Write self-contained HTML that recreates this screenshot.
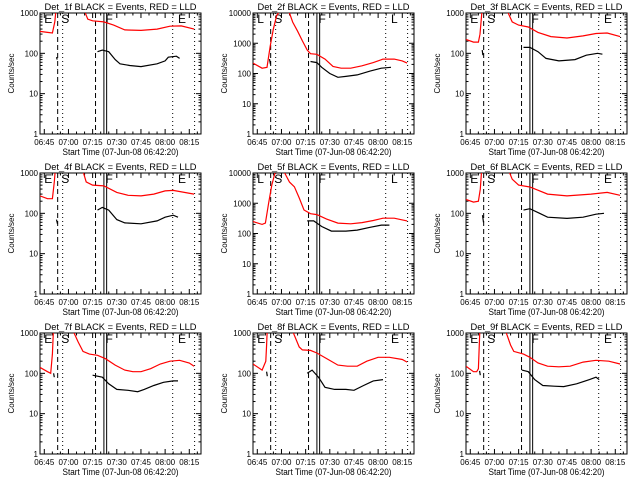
<!DOCTYPE html>
<html><head><meta charset="utf-8"><style>
body{margin:0;background:#fff}
svg{display:block}
text{font-family:"Liberation Sans",sans-serif;fill:#000}
</style></head><body>
<svg id="c" width="640" height="480" viewBox="0 0 640 480"></svg>
<script>
const detNames=["Det_1f","Det_2f","Det_3f","Det_4f","Det_5f","Det_6f","Det_7f","Det_8f","Det_9f"];
const yMaxDecades=[3,4,3,3,4,3,3,3,3];
const xTickLabels=["06:45","07:00","07:15","07:30","07:45","08:00","08:15"];
const redPreT=[[-2.7,2,5,6.5,7.5],[-2.7,3,6,8,10,12,14],[-2.7,2,5,6,7.5],[-2.7,2,5,6.2,7],[-2.7,3,5,7,9,11,14],[-2.7,2,5,6.2,7.2],[-2.7,2,4,5,5.8],[-2.7,3,5.3,5.8,6.3],[-2.7,2,4,5,6]];
const redPreV=[[350,330,320,600,1500],[220,150,160,800,3000,8000,12000],[220,190,190,300,1500],[270,230,230,600,1500],[250,200,220,1000,4000,10000,12000],[220,190,200,400,1500],[140,110,100,300,1500],[170,120,200,500,1500],[150,110,110,130,1500]];
const redPostT=[[25,27,30,37,43,50,60,70,78,85,93],[17,20,22,25,28,31,33,37,42,47,52,58,65,72,78,85,90,93],[23,26,30,36,42,50,60,70,78,85,93],[24,26,30,37,45,52,60,68,75,80,93],[14,17,20,23,26,29,33,37,43,50,58,65,72,78,85,93],[24,26,30,37,48,60,75,85,93],[18,21,24,28,33,38,44,50,55,60,66,72,78,84,90,93],[22,26,28,33,37,44,50,56,62,68,75,82,90,93],[22,25,27,33,37,42,48,55,62,70,78,86,93]];
const redPostV=[[1100,700,640,600,500,380,370,400,470,480,400],[12000,10000,5000,2500,1200,600,450,430,300,170,150,150,180,230,300,300,260,220],[1100,600,500,450,330,260,240,270,310,320,260],[1100,600,500,480,330,280,270,300,360,370,300],[12000,10000,5000,3500,1500,600,450,420,300,220,210,230,270,320,320,260],[1100,700,500,450,300,270,300,330,280],[1100,600,350,300,280,230,160,120,110,110,130,170,200,210,180,150],[1100,450,380,370,320,220,160,150,150,200,250,250,220,190],[1100,500,350,300,250,180,150,145,150,190,210,200,170]];
const blackPreT=[[7.6,8],[7.6,8.2],[7.4,7.8],[7.6,8.2],[8,8.4],[7.6,8.2],[5.8,6.2],[5.8,6.2],[5.8,6.2]];
const blackPreV=[[80,70],[300,200],[120,90],[70,55],[200,160],[90,60],[100,80],[110,85],[115,90]];
const blackPostT=[[33,36,40,44,47,53,60,70,75,77,82,84],[33,37,40,45,50,55,62,70,77,83],[33,37,42,47,55,65,72,79,82],[33,36,40,45,50,60,70,75,80,83],[31,35,40,46,55,62,70,77,82],[33,37,43,48,60,70,78,83],[30,36,40,45,52,58,62,68,74,80,83],[31,34,38,42,48,55,60,66,72,78],[32,36,40,45,52,58,66,74,78,80]];
const blackPostV=[[110,120,110,70,55,50,47,55,65,80,85,75],[250,230,160,100,75,80,90,120,150,160],[140,140,110,75,65,70,90,100,95],[120,140,120,70,58,55,65,80,90,80],[260,260,170,120,120,130,160,190,190],[120,130,100,80,75,80,95,100],[90,80,55,40,38,35,40,50,60,65,65],[100,120,80,45,40,40,38,50,65,70],[120,110,70,50,48,47,55,70,80,70]];
const ns="http://www.w3.org/2000/svg";
const svg=document.getElementById('c');
function mk(tag,attrs,parent){const e=document.createElementNS(ns,tag);for(const k in attrs)e.setAttribute(k,attrs[k]);(parent||svg).appendChild(e);return e;}
for(let p=0;p<9;p++){
  const col=p%3,row=Math.floor(p/3);
  const L=40+col*213,R=201+col*213,T=13+row*160,B=134+row*160;
  const dec=yMaxDecades[p];
  const xs=t=>L+4.3+t*1.611;
  const ys=v=>B-(Math.log10(v))/dec*(B-T);
  const g=mk('g',{});
  
  
  const cid='clip'+p;
  const cp=mk('clipPath',{id:cid},g);mk('rect',{x:L,y:T,width:R-L,height:B-T},cp);
  const tt=mk('text',{x:(L+R)/2-76,y:T-3,'font-size':9.5,textLength:152,lengthAdjust:'spacingAndGlyphs'},g);
  tt.textContent=detNames[p]+" BLACK = Events, RED = LLD";
  
  
  const yt=mk('text',{x:0,y:0,'font-size':8,'text-anchor':'middle',transform:`translate(${L-26},${(T+B)/2}) rotate(-90)`},g);
  yt.textContent="Counts/sec";
  
  
  const xt=mk('text',{x:(L+R)/2-58,y:B+21,'font-size':9,textLength:116,lengthAdjust:'spacingAndGlyphs'},g);
  xt.textContent="Start Time (07-Jun-08 06:42:20)";
  
  
  for(let d=0;d<=dec;d++){
    const y=ys(Math.pow(10,d));
    mk('line',{x1:L,x2:L+5,y1:y,y2:y,stroke:'#000'},g);mk('line',{x1:R-5,x2:R,y1:y,y2:y,stroke:'#000'},g);
    const lb=mk('text',{x:L-2,y:y+3,'font-size':8,'text-anchor':'end'},g);
    lb.textContent=String(Math.pow(10,d));
    
    
    if(d<dec)for(let m=2;m<10;m++){const ym=ys(m*Math.pow(10,d));mk('line',{x1:L,x2:L+2.5,y1:ym,y2:ym,stroke:'#000'},g);mk('line',{x1:R-2.5,x2:R,y1:ym,y2:ym,stroke:'#000'},g);}
  }
  for(let t=0;t<=95;t+=5){const x=xs(t);const len=t%15===0?5:2.5;mk('line',{x1:x,x2:x,y1:B,y2:B-len,stroke:'#000'},g);mk('line',{x1:x,x2:x,y1:T,y2:T+len,stroke:'#000'},g);}
  xTickLabels.forEach((s,i)=>{const lb=mk('text',{x:xs(i*15)-10,y:B+11,'font-size':8,textLength:20,lengthAdjust:'spacingAndGlyphs'},g);lb.textContent=s;
    
    });
  mk('rect',{x:L,y:T,width:R-L,height:B-T,fill:'none',stroke:'#000'},g);
  const cg=mk('g',{'clip-path':`url(#${cid})`},g);
  [8.3,31.8].forEach(t=>mk('line',{x1:xs(t),x2:xs(t),y1:T,y2:B,stroke:'#000','stroke-dasharray':'5,3'},cg));
  [11.4,79.7,93.3].forEach(t=>mk('line',{x1:xs(t),x2:xs(t),y1:T,y2:B,stroke:'#000','stroke-dasharray':'1,3'},cg));
  [37,38.7].forEach(t=>mk('line',{x1:xs(t),x2:xs(t),y1:T,y2:B,stroke:'#000'},cg));
  [[0,'E'],[10.5,'S'],[38,'F'],[83,'E']].forEach(([t,s])=>{const m=mk('text',{x:xs(t),y:T+10,'font-size':12},cg);m.textContent=(dec===4&&s==='E')?'L':s;
    
    });
  function line(T_,V_,color,name){const pts=T_.map((t,i)=>xs(t).toFixed(1)+','+ys(V_[i]).toFixed(1)).join(' ');
    const pl=mk('polyline',{points:pts,fill:'none',stroke:color,'stroke-width':1.2},cg);
    
    }
  line(redPreT[p],redPreV[p],'#f00','lld-series-pre');
  line(redPostT[p],redPostV[p],'#f00','lld-series-post');
  line(blackPreT[p],blackPreV[p],'#000','events-series-pre');
  line(blackPostT[p],blackPostV[p],'#000','events-series-post');
}
</script>
</body></html>
